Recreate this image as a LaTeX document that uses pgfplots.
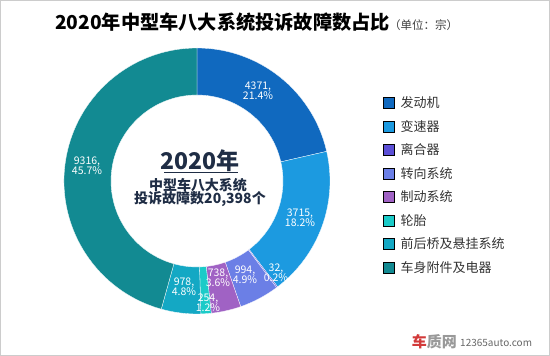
\documentclass[border=0pt]{standalone}
\usepackage{pgfplots}
\pgfplotsset{compat=1.18}
\usepackage{pgfplotstable}
\usepackage{fontspec}
\setmainfont{Noto Sans CJK SC}

\definecolor{c1}{HTML}{1069BF}
\definecolor{c2}{HTML}{1C9AE0}
\definecolor{c3}{HTML}{5B4FD6}
\definecolor{c4}{HTML}{6B7FE6}
\definecolor{c5}{HTML}{A062C4}
\definecolor{c6}{HTML}{1BCBC8}
\definecolor{c7}{HTML}{14A8C4}
\definecolor{c8}{HTML}{128A92}
\definecolor{navy}{HTML}{1F2D45}
\definecolor{logored}{HTML}{D23A3A}

% value, shown percentage, label position (pixels from top-left)
\pgfplotstableread{
val pct lx ly
4371 21.4 258 91
3715 18.2 300 218
32 0.2 276 273
994 4.9 245 275
738 3.6 218 278
254 1.2 208 303
978 4.8 184 287
9316 45.7 87 166
}\data

\begin{document}
\begin{tikzpicture}
\begin{axis}[
  scale only axis, width=550pt, height=356pt,
  xmin=0, xmax=550, ymin=0, ymax=356,
  hide axis, clip=false,
  legend image code/.code={\fill[#1] (0pt,-5.5pt) rectangle (11pt,5.5pt);},
  legend style={at={(axis cs:383,264.75)}, anchor=north west, draw=none, fill=none,
    inner sep=0pt, row sep=0pt,
    nodes={anchor=west, inner xsep=6pt, inner ysep=0pt, minimum height=23.5pt,
      font=\fontsize{13}{14}\selectfont, text=black!80}},
  legend cell align=left,
]
\addlegendimage{fill=c1}\addlegendentry{发动机}
\addlegendimage{fill=c2}\addlegendentry{变速器}
\addlegendimage{fill=c3}\addlegendentry{离合器}
\addlegendimage{fill=c4}\addlegendentry{转向系统}
\addlegendimage{fill=c5}\addlegendentry{制动系统}
\addlegendimage{fill=c6}\addlegendentry{轮胎}
\addlegendimage{fill=c7}\addlegendentry{前后桥及悬挂系统}
\addlegendimage{fill=c8}\addlegendentry{车身附件及电器}

\pgfplotsextra{%
  \gdef\cum{0}%
  \foreach \i/\c in {0/c1,1/c2,2/c3,3/c4,4/c5,5/c6,6/c7,7/c8}{%
    \pgfplotstablegetelem{\i}{val}\of\data
    \let\v\pgfplotsretval
    \pgfmathsetmacro\aone{\cum}%
    \pgfmathsetmacro\atwo{\cum+(\v/203.98)*3.6}%
    \pgfmathsetmacro\xa{197+133*sin(\aone)}%
    \pgfmathsetmacro\ya{175+133*cos(\aone)}%
    \pgfmathsetmacro\xb{197+86*sin(\atwo)}%
    \pgfmathsetmacro\yb{175+86*cos(\atwo)}%
    \pgfmathsetmacro\sa{90-\aone}%
    \pgfmathsetmacro\sb{90-\atwo}%
    \fill[\c, draw=white, line width=0.3pt] (axis cs:\xa,\ya) arc[start angle=\sa, end angle=\sb, radius=133pt]
       -- (axis cs:\xb,\yb) arc[start angle=\sb, end angle=\sa, radius=86pt] -- cycle;
    \xdef\cum{\atwo}%
  }%
  \foreach \i in {0,...,7}{%
    \pgfplotstablegetelem{\i}{val}\of\data \let\v\pgfplotsretval
    \pgfplotstablegetelem{\i}{pct}\of\data \let\p\pgfplotsretval
    \pgfplotstablegetelem{\i}{lx}\of\data \let\lx\pgfplotsretval
    \pgfplotstablegetelem{\i}{ly}\of\data \let\ly\pgfplotsretval
    \pgfmathsetmacro\lyy{356-\ly}%
    \node[text=white, align=center, font=\fontsize{10.5}{10.5}\selectfont, inner sep=0pt]
      at (axis cs:\lx,\lyy) {\v,\\\p\%};
  }%
}

% centre text
\node[text=navy, font=\fontsize{23}{24}\bfseries, inner sep=0pt, text height=16pt, text depth=0pt] (yr) at (axis cs:200,194) {2020年};
\draw[navy, line width=1.3pt] (axis cs:164,183.5) -- (axis cs:238,183.5);
\node[text=navy, font=\fontsize{14}{15}\bfseries, inner sep=0pt, text height=10.5pt, text depth=1pt] at (axis cs:198,170) {中型车八大系统};
\node[text=navy, font=\fontsize{14}{15}\bfseries, inner sep=0pt, text height=10.5pt, text depth=1pt] at (axis cs:200,157) {投诉故障数20,398个};

% title
\node[anchor=west, font=\fontsize{19.2}{21}\bfseries, inner sep=0pt] at (axis cs:55,334) {2020年中型车八大系统投诉故障数占比};
\node[anchor=west, font=\fontsize{11.5}{13}\selectfont, text=black!75, inner sep=0pt] at (axis cs:389,331) {（单位：宗）};

% watermark
\node[anchor=east, font=\fontsize{15}{16}\bfseries, inner sep=0pt] at (axis cs:457,14) {\textcolor{logored}{车}\textcolor{black!40}{质网}};
\node[anchor=west, font=\fontsize{10}{11}\selectfont, text=black!60, inner sep=0pt] at (axis cs:460,13) {12365auto.com};

% frame
\draw[black!20, line width=0.8pt] (axis cs:0.4,0.4) rectangle (axis cs:549.6,355.6);
\end{axis}
\pgfresetboundingbox
\useasboundingbox (0,0) rectangle (550pt,356pt);
\end{tikzpicture}
\end{document}
